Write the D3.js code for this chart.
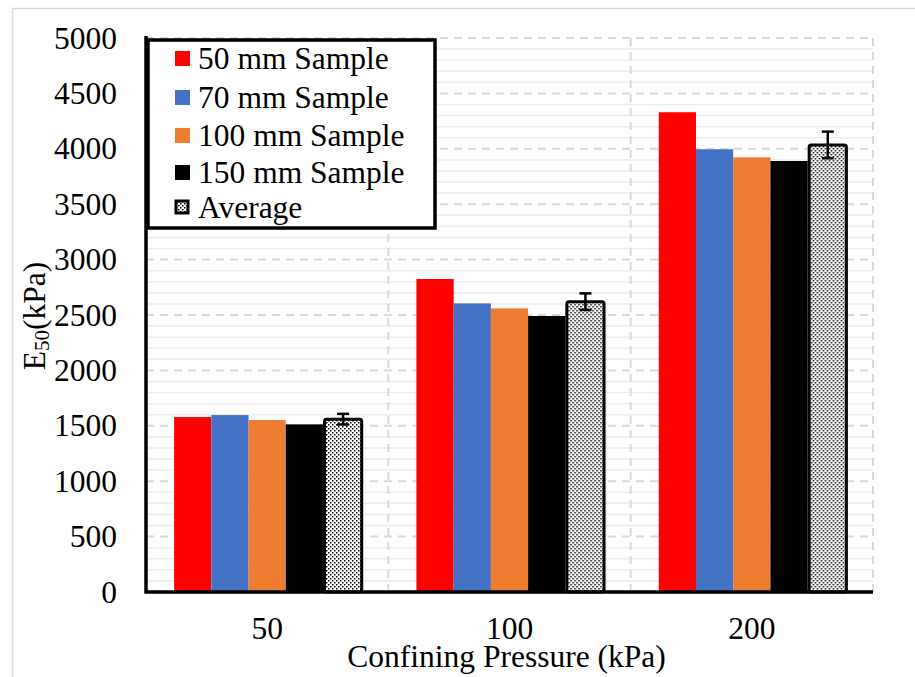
<!DOCTYPE html>
<html>
<head>
<meta charset="utf-8">
<script src="https://cdn.jsdelivr.net/npm/d3@7"></script>
<style>
  body { margin: 0; background: #fff; }
  svg { display: block; }
  svg text { font-family: "Liberation Serif", "Times New Roman", "DejaVu Serif", serif; }
</style>
</head>
<body>
<svg id="chart" width="915" height="677"></svg>
<script>
// data
const pressures = ["50", "100", "200"];
const seriesNames = ["50 mm Sample", "70 mm Sample", "100 mm Sample", "150 mm Sample", "Average"];
const seriesColors = ["#ff0000", "#4472c4", "#ed7d31", "#000000", "url(#dots)"];
const e50_50mm = [1579, 2825, 4330];
const e50_70mm = [1597, 2605, 3996];
const e50_100mm = [1552, 2560, 3923];
const e50_150mm = [1513, 2491, 3890];
const e50_avg = [1560, 2620, 4035];
const avgErr = [48, 75, 120];
const yTicks = [0, 500, 1000, 1500, 2000, 2500, 3000, 3500, 4000, 4500, 5000];

const allSeries = [e50_50mm, e50_70mm, e50_100mm, e50_150mm, e50_avg];
const serif = '"Liberation Serif", "Times New Roman", "DejaVu Serif", serif';
const fs = 31.5;

const svg = d3.select("#chart");
const width = 915, height = 677;
const margin = { top: 38, right: 42, bottom: 85, left: 146 };
const innerWidth = width - margin.left - margin.right;
const innerHeight = height - margin.top - margin.bottom;

// outer frame
svg.append("path")
    .attr("d", `M12.5,${height} V8.5 H${width}`)
    .attr("fill", "none").attr("stroke", "#d9d9d9").attr("stroke-width", 1.5);

const defs = svg.append("defs");
const pat = defs.append("pattern")
    .attr("id", "dots").attr("patternUnits", "userSpaceOnUse")
    .attr("width", 4).attr("height", 4);
pat.append("rect").attr("width", 4).attr("height", 4).attr("fill", "#fff");
pat.append("rect").attr("x", 0).attr("y", 0).attr("width", 1.5).attr("height", 1.5).attr("fill", "#000");
pat.append("rect").attr("x", 2).attr("y", 2).attr("width", 1.5).attr("height", 1.5).attr("fill", "#000");

const g = svg.append("g").attr("transform", `translate(${margin.left},${margin.top})`);

const x = d3.scaleBand().domain(pressures).range([0, innerWidth]).paddingInner(0).paddingOuter(0);
const xs = d3.scaleBand().domain(d3.range(seriesNames.length))
    .range([x.bandwidth() * 0.116, x.bandwidth() * 0.884]).padding(0);
const y = d3.scaleLinear().domain([0, 5000]).range([innerHeight, 0]);

// minor gridlines
const minor = d3.range(100, 5000, 100).filter(v => v % 500 !== 0);
g.append("g").selectAll("line").data(minor).join("line")
    .attr("x1", 0).attr("x2", innerWidth)
    .attr("y1", d => y(d)).attr("y2", d => y(d))
    .attr("stroke", "#ededed").attr("stroke-width", 1.5);

// major gridlines (dashed)
g.append("g").selectAll("line").data(yTicks.filter(v => v > 0)).join("line")
    .attr("x1", 0).attr("x2", innerWidth)
    .attr("y1", d => y(d)).attr("y2", d => y(d))
    .attr("stroke", "#d9d9d9").attr("stroke-width", 2).attr("stroke-dasharray", "8,6");

// vertical dashed gridlines at category boundaries
g.append("g").selectAll("line").data(pressures).join("line")
    .attr("x1", d => x(d) + x.bandwidth()).attr("x2", d => x(d) + x.bandwidth())
    .attr("y1", 0).attr("y2", innerHeight)
    .attr("stroke", "#d9d9d9").attr("stroke-width", 2).attr("stroke-dasharray", "8,6");

// bars
const groups = g.append("g").selectAll("g").data(pressures).join("g")
    .attr("transform", d => `translate(${x(d)},0)`);

groups.selectAll("rect.bar")
    .data((d, i) => allSeries.map((s, k) => ({ k: k, v: s[i] })))
    .join("rect")
    .attr("class", "bar")
    .attr("x", d => xs(d.k) + (d.k === 4 ? 1.5 : 0))
    .attr("width", xs.bandwidth())
    .attr("y", d => y(d.v))
    .attr("height", d => y(0) - y(d.v))
    .attr("fill", d => seriesColors[d.k])
    .attr("stroke", d => d.k === 4 ? "#000" : "none")
    .attr("stroke-width", 3)
    .attr("rx", d => d.k === 4 ? 2 : 0);

// error bars on the average
groups.each(function (d, i) {
    const cx = xs(4) + 1.5 + xs.bandwidth() / 2;
    const gg = d3.select(this);
    const lo = y(e50_avg[i] - avgErr[i]), hi = y(e50_avg[i] + avgErr[i]);
    gg.append("line").attr("x1", cx).attr("x2", cx).attr("y1", lo).attr("y2", hi)
        .attr("stroke", "#000").attr("stroke-width", 2.5);
    [lo, hi].forEach(yy => gg.append("line")
        .attr("x1", cx - 6).attr("x2", cx + 6).attr("y1", yy).attr("y2", yy)
        .attr("stroke", "#000").attr("stroke-width", 2.5));
});

// axes
const yAxis = g.append("g")
    .call(d3.axisLeft(y).tickValues(yTicks).tickFormat(d3.format("d")).tickSize(0).tickPadding(29))
    .attr("font-family", serif);
yAxis.select(".domain").remove();
yAxis.selectAll("text").attr("font-size", fs).attr("fill", "#000");

const xAxis = g.append("g").attr("transform", `translate(0,${innerHeight})`)
    .call(d3.axisBottom(x).tickSize(0).tickPadding(25))
    .attr("font-family", serif);
xAxis.select(".domain").remove();
xAxis.selectAll("text").attr("font-size", fs).attr("fill", "#000");

// spines
g.append("path")
    .attr("d", `M0,-2 V${innerHeight} H${innerWidth}`)
    .attr("fill", "none").attr("stroke", "#000").attr("stroke-width", 3.5);

// axis titles
svg.append("text")
    .attr("x", margin.left + innerWidth / 2 - 3).attr("y", 667)
    .attr("text-anchor", "middle").attr("font-size", fs)
    .text("Confining Pressure (kPa)");

const yt = svg.append("text")
    .attr("transform", "translate(45,316) rotate(-90)")
    .attr("text-anchor", "middle").attr("font-size", fs);
yt.append("tspan").text("E");
yt.append("tspan").attr("font-size", 21).attr("dy", 4).text("50");
yt.append("tspan").attr("dy", -4).text("(kPa)");

// legend
const lg = svg.append("g").attr("transform", "translate(148,40)");
lg.append("rect").attr("width", 287).attr("height", 188)
    .attr("fill", "#fff").attr("stroke", "#000").attr("stroke-width", 3.5);
const rowsY = [18, 57, 95, 132, 167];
const items = lg.selectAll("g.item").data(seriesNames).join("g")
    .attr("class", "item")
    .attr("transform", (d, i) => `translate(0,${rowsY[i]})`);
items.append("rect")
    .attr("x", d => d === "Average" ? 28 : 27).attr("y", d => d === "Average" ? -6 : -7)
    .attr("width", d => d === "Average" ? 12 : 15).attr("height", d => d === "Average" ? 12 : 15)
    .attr("fill", (d, i) => seriesColors[i])
    .attr("stroke", d => d === "Average" ? "#000" : "none")
    .attr("stroke-width", 3);
items.append("text")
    .attr("x", 50).attr("y", 0).attr("dy", "0.35em")
    .attr("font-size", fs)
    .text(d => d);
</script>
</body>
</html>
